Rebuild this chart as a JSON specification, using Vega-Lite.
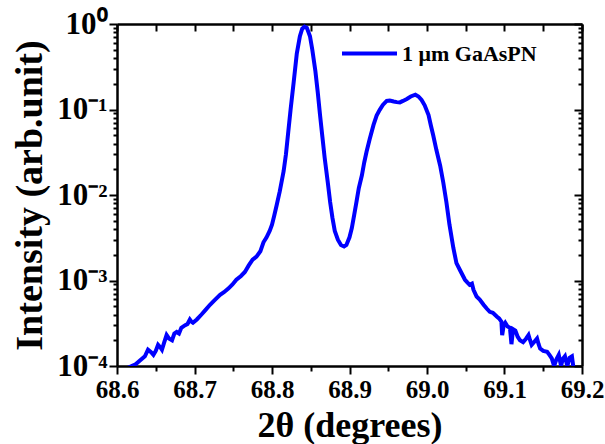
{
  "$schema": "https://vega.github.io/schema/vega-lite/v6.json",
  "autosize": {"type": "none"},
  "padding": {"left": 117, "top": 24, "right": 23, "bottom": 78},
  "width": 465,
  "height": 342,
  "background": "white",
  "config": {
    "view": {"stroke": null},
    "font": "Liberation Serif",
    "text": {"font": "Liberation Serif"},
    "axis": {
      "domainColor": "black", "domainWidth": 2.5, "tickColor": "black", "tickWidth": 2,
      "labelFont": "Liberation Serif", "labelFontWeight": "bold", "labelColor": "black",
      "titleFont": "Liberation Serif", "titleFontWeight": "bold", "titleColor": "black",
      "grid": false, "labelOverlap": false, "labelFlush": false
    },
    "legend": {"labelFont": "Liberation Serif"}
  },
  "data": {"values": [
    {"two_theta": 68.605, "intensity": 0.00007},
    {"two_theta": 68.614, "intensity": 0.000095},
    {"two_theta": 68.619, "intensity": 0.0001},
    {"two_theta": 68.624, "intensity": 0.000105},
    {"two_theta": 68.630, "intensity": 0.000117},
    {"two_theta": 68.636, "intensity": 0.00013},
    {"two_theta": 68.640, "intensity": 0.000155},
    {"two_theta": 68.644, "intensity": 0.000145},
    {"two_theta": 68.647, "intensity": 0.000135},
    {"two_theta": 68.650, "intensity": 0.00015},
    {"two_theta": 68.653, "intensity": 0.000177},
    {"two_theta": 68.656, "intensity": 0.000165},
    {"two_theta": 68.658, "intensity": 0.000155},
    {"two_theta": 68.661, "intensity": 0.00019},
    {"two_theta": 68.664, "intensity": 0.00023},
    {"two_theta": 68.667, "intensity": 0.00021},
    {"two_theta": 68.671, "intensity": 0.0002},
    {"two_theta": 68.674, "intensity": 0.00024},
    {"two_theta": 68.677, "intensity": 0.00025},
    {"two_theta": 68.680, "intensity": 0.00024},
    {"two_theta": 68.683, "intensity": 0.00028},
    {"two_theta": 68.688, "intensity": 0.0003},
    {"two_theta": 68.691, "intensity": 0.00031},
    {"two_theta": 68.694, "intensity": 0.00035},
    {"two_theta": 68.696, "intensity": 0.00033},
    {"two_theta": 68.698, "intensity": 0.00032},
    {"two_theta": 68.703, "intensity": 0.00035},
    {"two_theta": 68.709, "intensity": 0.0004},
    {"two_theta": 68.714, "intensity": 0.00045},
    {"two_theta": 68.720, "intensity": 0.00052},
    {"two_theta": 68.726, "intensity": 0.00059},
    {"two_theta": 68.733, "intensity": 0.00068},
    {"two_theta": 68.738, "intensity": 0.00073},
    {"two_theta": 68.744, "intensity": 0.00081},
    {"two_theta": 68.749, "intensity": 0.0009},
    {"two_theta": 68.754, "intensity": 0.00102},
    {"two_theta": 68.760, "intensity": 0.00113},
    {"two_theta": 68.765, "intensity": 0.00126},
    {"two_theta": 68.770, "intensity": 0.0015},
    {"two_theta": 68.775, "intensity": 0.00175},
    {"two_theta": 68.780, "intensity": 0.0019},
    {"two_theta": 68.785, "intensity": 0.0022},
    {"two_theta": 68.789, "intensity": 0.0028},
    {"two_theta": 68.793, "intensity": 0.0032},
    {"two_theta": 68.797, "intensity": 0.0038},
    {"two_theta": 68.800, "intensity": 0.0045},
    {"two_theta": 68.803, "intensity": 0.0058},
    {"two_theta": 68.806, "intensity": 0.0076},
    {"two_theta": 68.810, "intensity": 0.011},
    {"two_theta": 68.815, "intensity": 0.019},
    {"two_theta": 68.818, "intensity": 0.03},
    {"two_theta": 68.821, "intensity": 0.055},
    {"two_theta": 68.824, "intensity": 0.1},
    {"two_theta": 68.828, "intensity": 0.21},
    {"two_theta": 68.832, "intensity": 0.45},
    {"two_theta": 68.836, "intensity": 0.72},
    {"two_theta": 68.839, "intensity": 0.88},
    {"two_theta": 68.842, "intensity": 0.93},
    {"two_theta": 68.845, "intensity": 0.9},
    {"two_theta": 68.849, "intensity": 0.72},
    {"two_theta": 68.852, "intensity": 0.5},
    {"two_theta": 68.856, "intensity": 0.28},
    {"two_theta": 68.859, "intensity": 0.16},
    {"two_theta": 68.862, "intensity": 0.086},
    {"two_theta": 68.865, "intensity": 0.048},
    {"two_theta": 68.868, "intensity": 0.027},
    {"two_theta": 68.872, "intensity": 0.014},
    {"two_theta": 68.875, "intensity": 0.0083},
    {"two_theta": 68.878, "intensity": 0.0054},
    {"two_theta": 68.881, "intensity": 0.0038},
    {"two_theta": 68.885, "intensity": 0.003},
    {"two_theta": 68.889, "intensity": 0.0026},
    {"two_theta": 68.893, "intensity": 0.0025},
    {"two_theta": 68.896, "intensity": 0.0026},
    {"two_theta": 68.900, "intensity": 0.0032},
    {"two_theta": 68.903, "intensity": 0.0041},
    {"two_theta": 68.906, "intensity": 0.0058},
    {"two_theta": 68.909, "intensity": 0.0083},
    {"two_theta": 68.912, "intensity": 0.012},
    {"two_theta": 68.916, "intensity": 0.017},
    {"two_theta": 68.919, "intensity": 0.024},
    {"two_theta": 68.922, "intensity": 0.032},
    {"two_theta": 68.926, "intensity": 0.045},
    {"two_theta": 68.931, "intensity": 0.066},
    {"two_theta": 68.935, "intensity": 0.085},
    {"two_theta": 68.939, "intensity": 0.099},
    {"two_theta": 68.943, "intensity": 0.113},
    {"two_theta": 68.948, "intensity": 0.126},
    {"two_theta": 68.952, "intensity": 0.127},
    {"two_theta": 68.957, "intensity": 0.124},
    {"two_theta": 68.961, "intensity": 0.122},
    {"two_theta": 68.965, "intensity": 0.121},
    {"two_theta": 68.969, "intensity": 0.126},
    {"two_theta": 68.974, "intensity": 0.133},
    {"two_theta": 68.979, "intensity": 0.142},
    {"two_theta": 68.985, "intensity": 0.149},
    {"two_theta": 68.989, "intensity": 0.142},
    {"two_theta": 68.993, "intensity": 0.129},
    {"two_theta": 68.997, "intensity": 0.112},
    {"two_theta": 69.002, "intensity": 0.086},
    {"two_theta": 69.005, "intensity": 0.065},
    {"two_theta": 69.008, "intensity": 0.05},
    {"two_theta": 69.012, "intensity": 0.034},
    {"two_theta": 69.017, "intensity": 0.022},
    {"two_theta": 69.021, "intensity": 0.014},
    {"two_theta": 69.025, "intensity": 0.0083},
    {"two_theta": 69.029, "intensity": 0.0045},
    {"two_theta": 69.034, "intensity": 0.0024},
    {"two_theta": 69.038, "intensity": 0.0016},
    {"two_theta": 69.043, "intensity": 0.0013},
    {"two_theta": 69.049, "intensity": 0.00102},
    {"two_theta": 69.052, "intensity": 0.00095},
    {"two_theta": 69.055, "intensity": 0.00089},
    {"two_theta": 69.058, "intensity": 0.00092},
    {"two_theta": 69.060, "intensity": 0.00078},
    {"two_theta": 69.064, "intensity": 0.00065},
    {"two_theta": 69.068, "intensity": 0.0006},
    {"two_theta": 69.073, "intensity": 0.00052},
    {"two_theta": 69.077, "intensity": 0.00047},
    {"two_theta": 69.081, "intensity": 0.00043},
    {"two_theta": 69.085, "intensity": 0.00042},
    {"two_theta": 69.090, "intensity": 0.00038},
    {"two_theta": 69.093, "intensity": 0.00036},
    {"two_theta": 69.096, "intensity": 0.00033},
    {"two_theta": 69.097, "intensity": 0.00023},
    {"two_theta": 69.099, "intensity": 0.0003},
    {"two_theta": 69.101, "intensity": 0.00032},
    {"two_theta": 69.104, "intensity": 0.00029},
    {"two_theta": 69.107, "intensity": 0.00028},
    {"two_theta": 69.109, "intensity": 0.00018},
    {"two_theta": 69.111, "intensity": 0.00027},
    {"two_theta": 69.114, "intensity": 0.00026},
    {"two_theta": 69.117, "intensity": 0.00022},
    {"two_theta": 69.120, "intensity": 0.0002},
    {"two_theta": 69.124, "intensity": 0.00019},
    {"two_theta": 69.128, "intensity": 0.00021},
    {"two_theta": 69.131, "intensity": 0.00023},
    {"two_theta": 69.133, "intensity": 0.0002},
    {"two_theta": 69.135, "intensity": 0.000177},
    {"two_theta": 69.138, "intensity": 0.00019},
    {"two_theta": 69.142, "intensity": 0.00021},
    {"two_theta": 69.144, "intensity": 0.00018},
    {"two_theta": 69.146, "intensity": 0.00016},
    {"two_theta": 69.150, "intensity": 0.00015},
    {"two_theta": 69.155, "intensity": 0.000147},
    {"two_theta": 69.158, "intensity": 0.000135},
    {"two_theta": 69.161, "intensity": 0.000123},
    {"two_theta": 69.164, "intensity": 0.0001},
    {"two_theta": 69.167, "intensity": 0.00012},
    {"two_theta": 69.170, "intensity": 0.000135},
    {"two_theta": 69.173, "intensity": 0.0001},
    {"two_theta": 69.175, "intensity": 0.00012},
    {"two_theta": 69.178, "intensity": 0.00013},
    {"two_theta": 69.181, "intensity": 0.0001},
    {"two_theta": 69.184, "intensity": 0.000125},
    {"two_theta": 69.187, "intensity": 0.00013},
    {"two_theta": 69.189, "intensity": 0.000095}
  ]},
  "resolve": {"axis": {"x": "independent", "y": "independent"}},
  "layer": [
    {
      "mark": {"type": "line", "strokeWidth": 4, "clip": true, "interpolate": "linear"},
      "encoding": {
        "x": {
          "field": "two_theta", "type": "quantitative",
          "scale": {"domain": [68.6, 69.2], "nice": false, "zero": false},
          "axis": {
            "orient": "bottom", "title": "2θ (degrees)", "titleFontSize": 36,
            "titleBaseline": "alphabetic", "titleY": 70,
            "titleFont": "Liberation Serif", "labelFont": "Liberation Serif",
            "labelFontSize": 25, "labelPadding": 3,
            "values": [68.6, 68.65, 68.7, 68.75, 68.8, 68.85, 68.9, 68.95, 69.0, 69.05, 69.1, 69.15, 69.2],
            "labelExpr": "abs(datum.value*10 - round(datum.value*10)) < 1e-6 ? format(datum.value, '.1f') : ''",
            "tickSize": {"condition": {"test": "abs(datum.value*10 - round(datum.value*10)) < 1e-6", "value": 8}, "value": 5}
          }
        },
        "y": {
          "field": "intensity", "type": "quantitative",
          "scale": {"type": "log", "domain": [0.0001, 1], "nice": false},
          "axis": {
            "orient": "left", "title": "Intensity (arb.unit)", "titleFontSize": 38, "titlePadding": 7,
            "titleFont": "Liberation Serif", "labelFont": "Liberation Serif",
            "labelFontSize": 31, "labelPadding": 2,
            "values": [0.0001, 0.0002, 0.0003, 0.0004, 0.0005, 0.0006, 0.0007, 0.0008, 0.0009, 0.001, 0.002, 0.003, 0.004, 0.005, 0.006, 0.007, 0.008, 0.009, 0.01, 0.02, 0.03, 0.04, 0.05, 0.06, 0.07, 0.08, 0.09, 0.1, 0.2, 0.3, 0.4, 0.5, 0.6, 0.7, 0.8, 0.9, 1],
            "labelExpr": "abs(log(datum.value)/LN10 - round(log(datum.value)/LN10)) < 1e-6 ? ['10⁻⁴','10⁻³','10⁻²','10⁻¹','10⁰'][round(log(datum.value)/LN10)+4] : ''",
            "tickSize": {"condition": {"test": "abs(log(datum.value)/LN10 - round(log(datum.value)/LN10)) < 1e-6", "value": 8}, "value": 4}
          }
        },
        "color": {
          "datum": "1 μm GaAsPN", "type": "nominal",
          "scale": {"range": ["#0000FF"]},
          "legend": {
            "title": null, "orient": "none", "legendX": 223, "legendY": 0, "padding": 0,
            "symbolType": "stroke", "symbolSize": 3025, "symbolStrokeWidth": 4, "symbolStrokeColor": "#0000FF",
            "labelFont": "Liberation Serif", "labelFontWeight": "bold", "labelFontSize": 22, "labelColor": "black", "labelOffset": 3,
            "labelLimit": 300
          }
        }
      }
    },
    {
      "mark": {"type": "line", "strokeWidth": 4, "clip": true, "opacity": 0},
      "encoding": {
        "x": {
          "field": "two_theta", "type": "quantitative",
          "axis": {
            "orient": "top", "title": null, "labels": false,
            "values": [68.6, 68.65, 68.7, 68.75, 68.8, 68.85, 68.9, 68.95, 69.0, 69.05, 69.1, 69.15, 69.2],
            "tickSize": -7
          }
        },
        "y": {
          "field": "intensity", "type": "quantitative",
          "axis": {
            "orient": "right", "title": null, "labels": false,
            "values": [0.0001, 0.0002, 0.0003, 0.0004, 0.0005, 0.0006, 0.0007, 0.0008, 0.0009, 0.001, 0.002, 0.003, 0.004, 0.005, 0.006, 0.007, 0.008, 0.009, 0.01, 0.02, 0.03, 0.04, 0.05, 0.06, 0.07, 0.08, 0.09, 0.1, 0.2, 0.3, 0.4, 0.5, 0.6, 0.7, 0.8, 0.9, 1],
            "tickSize": {"condition": {"test": "abs(log(datum.value)/LN10 - round(log(datum.value)/LN10)) < 1e-6", "value": -8}, "value": -4}
          }
        }
      }
    }
  ]
}
